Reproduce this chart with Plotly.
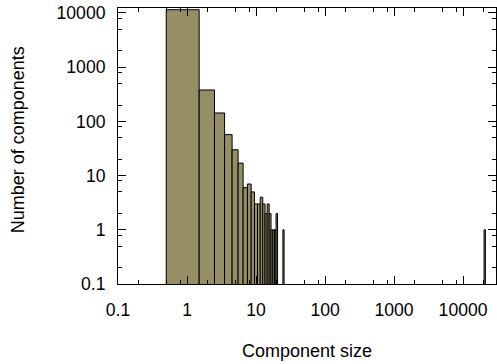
import plotly.graph_objects as go

# Data
component_sizes = list(range(1, 26)) + [20600]
component_counts = [11500, 380, 143, 57, 30, 17, 6, 7, 5, 3, 3, 4, 3, 2, 3, 2,
                    1, 1, 1, 2, 0, 0, 0, 0, 1, 1]

x_tick_vals = [0.1, 1, 10, 100, 1000, 10000]
x_tick_text = ["0.1", "1", "10", "100", "1000", "10000"]
y_tick_vals = [0.1, 1, 10, 100, 1000, 10000]
y_tick_text = ["0.1", "1", "10", "100", "1000", "10000"]

sizes_nz = [s for s, c in zip(component_sizes, component_counts) if c > 0]
counts_nz = [c for c in component_counts if c > 0]
# unit-wide bins; the lone giant component gets a visible sliver
widths_nz = [1 if s < 1000 else 0.045 * s for s in sizes_nz]

minor_vals = [m * 10 ** e for e in range(-1, 5) for m in (2, 5, 8)]

FONT = "Liberation Sans, Arial, sans-serif"
W, H = 497, 364
ML, MR, MT, MB = 118, 1, 8, 80

fig = go.Figure()
fig.add_trace(go.Bar(
    x=sizes_nz, y=counts_nz, width=widths_nz,
    marker=dict(color="#968f66", line=dict(color="black", width=1)),
    showlegend=False,
))

axis_common = dict(
    type="log", showgrid=False, zeroline=False, automargin=False,
    showline=True, linecolor="black", linewidth=1, mirror="ticks",
    ticks="inside", ticklen=8, tickwidth=1, tickcolor="black",
    tickfont=dict(family=FONT, size=17.6, color="black"),
    minor=dict(tickmode="array", tickvals=minor_vals, ticks="inside",
               ticklen=4, tickwidth=1, tickcolor="black", showgrid=False),
)

fig.update_xaxes(**axis_common, range=[-1, 4.477],
                 tickmode="array", tickvals=x_tick_vals, ticktext=x_tick_text,
                 ticklabelstandoff=10)
fig.update_yaxes(**axis_common, range=[-1, 4.092],
                 tickmode="array", tickvals=y_tick_vals, ticktext=y_tick_text,
                 ticklabelstandoff=8)

pw, ph = W - ML - MR, H - MT - MB
fig.update_layout(
    width=W, height=H,
    margin=dict(l=ML, r=MR, t=MT, b=MB),
    paper_bgcolor="white", plot_bgcolor="white",
    bargap=0,
    font=dict(family=FONT, color="black"),
    annotations=[
        dict(text="Component size", xref="paper", yref="paper",
             x=0.5, xanchor="center", y=(H - 351 - MB) / ph, yanchor="middle",
             showarrow=False, font=dict(family=FONT, size=18, color="black")),
        dict(text="Number of components", xref="paper", yref="paper",
             x=(18.3 - ML) / pw, xanchor="center",
             y=(H - 140 - MB) / ph, yanchor="middle", textangle=-90,
             showarrow=False, font=dict(family=FONT, size=18, color="black")),
    ],
)

fig.write_html(
    "out.html",
    config={"displayModeBar": False, "staticPlot": True},
    post_script="document.body.style.margin='0';document.body.style.overflow='hidden';",
)
